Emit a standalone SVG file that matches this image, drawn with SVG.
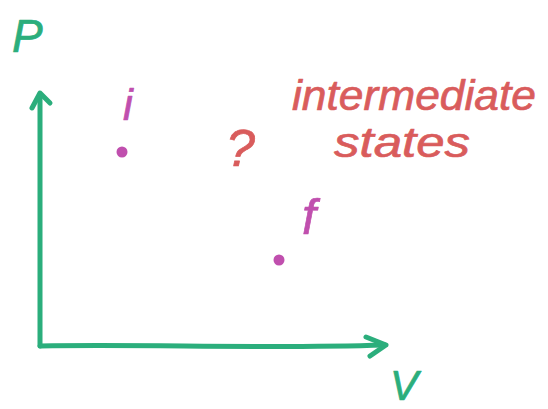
<svg xmlns="http://www.w3.org/2000/svg" width="548" height="409" viewBox="0 0 548 409">
  <style>
    .axis { fill: none; stroke: #2bae7c; stroke-width: 5; stroke-linecap: round; stroke-linejoin: round; }
    text { font-family: "Liberation Sans", "DejaVu Sans", sans-serif; font-style: italic; stroke-width: 0.7; stroke-linejoin: round; }
    .axis-label { fill: #2bae7c; stroke: #2bae7c; }
    .state { fill: #c04fae; }
    .state-label { fill: #c04fae; stroke: #c04fae; }
    .note { fill: #d95c5c; stroke: #d95c5c; }
  </style>
  <rect width="548" height="409" fill="#ffffff"/>

  <!-- P-V axes -->
  <g id="axes">
    <path class="axis" d="M40,346 L40,94"/>
    <path class="axis" d="M32,108 L40,93 L50,103"/>
    <path class="axis" d="M40,346 C150,344 260,349 385,345"/>
    <path class="axis" d="M366,337 L386,345 L370,356"/>
  </g>
  <g id="axis-p"><text class="axis-label" x="12" y="52" font-size="46">P</text></g>
  <g id="axis-v"><text class="axis-label" x="390" y="400" font-size="42">V</text></g>

  <!-- initial state -->
  <g id="state-i">
    <text class="state-label" x="123" y="120" font-size="44">i</text>
    <circle class="state" cx="122" cy="152" r="5.5"/>
  </g>

  <!-- final state -->
  <g id="state-f">
    <text class="state-label" x="302" y="234" font-size="50">f</text>
    <circle class="state" cx="279" cy="260" r="5.5"/>
  </g>

  <!-- unknown path between them -->
  <g id="unknown">
    <text class="note" x="226" y="166" font-size="52">?</text>
  </g>
  <g id="intermediate-states">
    <text class="note" x="292" y="110" font-size="42" textLength="244" lengthAdjust="spacingAndGlyphs">intermediate</text>
    <text class="note" x="334" y="157" font-size="42" textLength="136" lengthAdjust="spacingAndGlyphs">states</text>
  </g>
</svg>
